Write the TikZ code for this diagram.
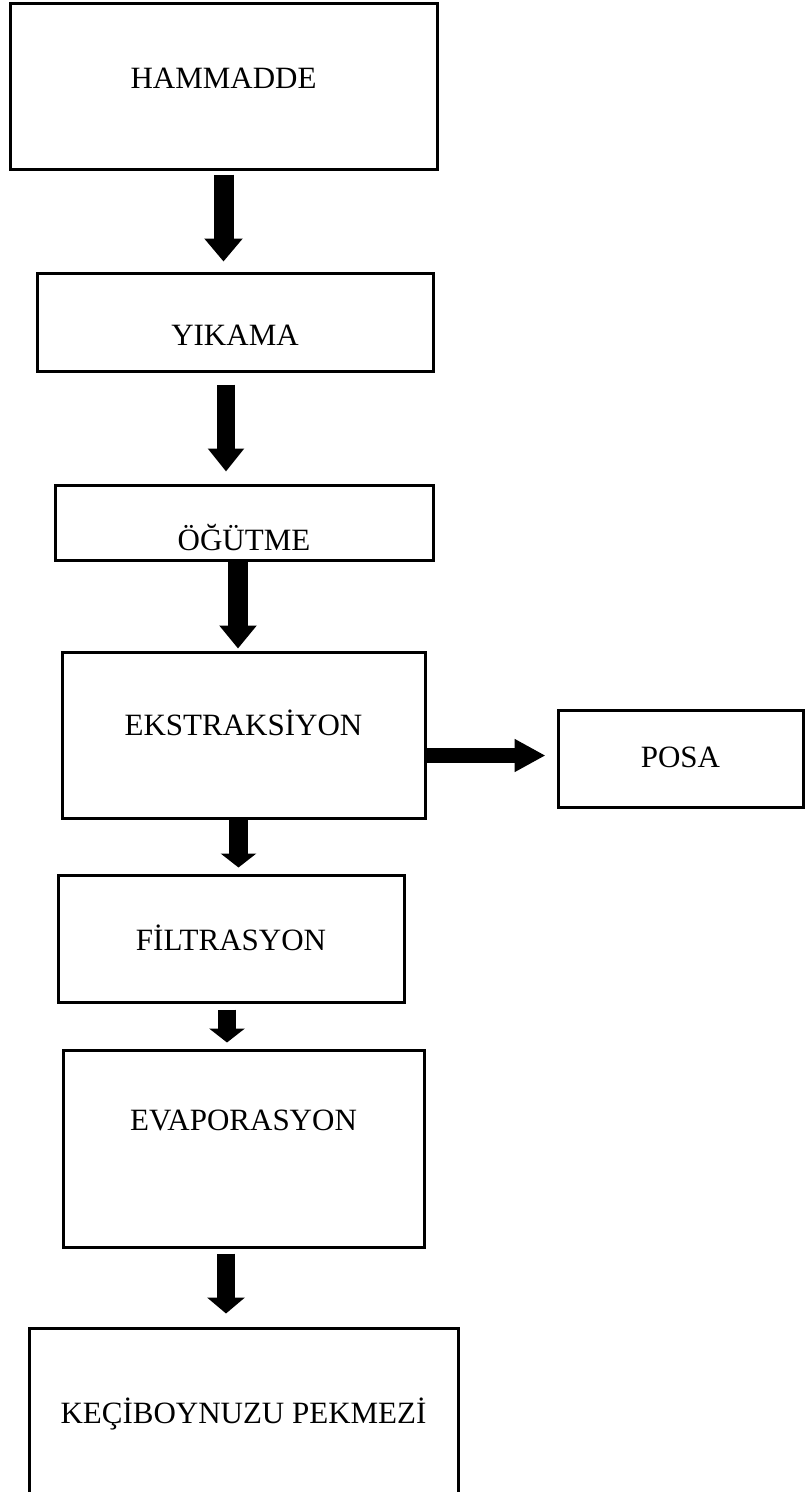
\documentclass[tikz,border=0pt]{standalone}
\usepackage{fontspec}
\setmainfont{Liberation Serif}
\usetikzlibrary{arrows.meta,positioning}

\begin{document}
\begin{tikzpicture}[x=1pt,y=-1pt,
        stage/.style={draw, line width=3pt, inner sep=0pt, anchor=base,
            font=\fontsize{31}{37}\selectfont},
        flow/.style n args={3}{line width=#1, -{Triangle[length=#2,width=#3]}}]

        % page frame (806 x 1492)
        \useasboundingbox (0,0) rectangle (806,1492);
        \clip (0,0) rectangle (806,1492);

        % process steps, placed at the baseline of their text
        \node[stage, minimum width=427pt, text height=85pt, text depth=81pt]  (hammadde)    at (223.5,88)   {HAMMADDE};
        \node[stage, minimum width=396pt, text height=72pt, text depth=26pt]  (yikama)      at (235,345)    {YIKAMA};
        \node[stage, minimum width=378pt, text height=65pt, text depth=10pt]  (ogutme)      at (244,550)    {ÖĞÜTME};
        \node[stage, minimum width=363pt, text height=83pt, text depth=83pt]  (ekstraksiyon) at (243.5,735) {EKSTRAKSİYON};
        \node[stage, minimum width=245pt, text height=57pt, text depth=40pt]  (posa)        at (680.5,767)  {POSA};
        \node[stage, minimum width=346pt, text height=75pt, text depth=52pt]  (filtrasyon)  at (231,950)    {FİLTRASYON};
        \node[stage, minimum width=361pt, text height=80pt, text depth=117pt] (evaporasyon) at (243.5,1130) {EVAPORASYON};
        \node[stage, minimum width=429pt, text height=95pt, text depth=77pt]  (pekmez)      at (243.5,1423) {KEÇİBOYNUZU PEKMEZİ};

        % block arrows between the steps
        \draw[flow={20pt}{23pt}{37pt}, shorten <=4pt, shorten >=10pt]
            (hammadde.south) -- (hammadde.south |- yikama.north);
        \draw[flow={18pt}{23pt}{35pt}, shorten <=12pt, shorten >=12pt]
            ([xshift=-9pt]yikama.south) -- ([xshift=-9pt]yikama.south |- ogutme.north);
        \draw[flow={20pt}{23pt}{36pt}, shorten >=2pt]
            ([xshift=-6pt]ogutme.south) -- ([xshift=-6pt]ogutme.south |- ekstraksiyon.north);
        \draw[flow={15pt}{31pt}{31pt}, shorten >=11pt]
            ([yshift=-20.5pt]ekstraksiyon.east) -- ([yshift=-20.5pt]ekstraksiyon.east -| posa.west);
        \draw[flow={19pt}{14pt}{35pt}, shorten >=6pt]
            ([xshift=-5pt]ekstraksiyon.south) -- ([xshift=-5pt]ekstraksiyon.south |- filtrasyon.north);
        \draw[flow={18pt}{14pt}{35pt}, shorten <=6pt, shorten >=6pt]
            ([xshift=-4pt]filtrasyon.south) -- ([xshift=-4pt]filtrasyon.south |- evaporasyon.north);
        \draw[flow={18pt}{16pt}{37pt}, shorten <=5pt, shorten >=13pt]
            ([xshift=-17.5pt]evaporasyon.south) -- ([xshift=-17.5pt]evaporasyon.south |- pekmez.north);

\end{tikzpicture}
\end{document}
